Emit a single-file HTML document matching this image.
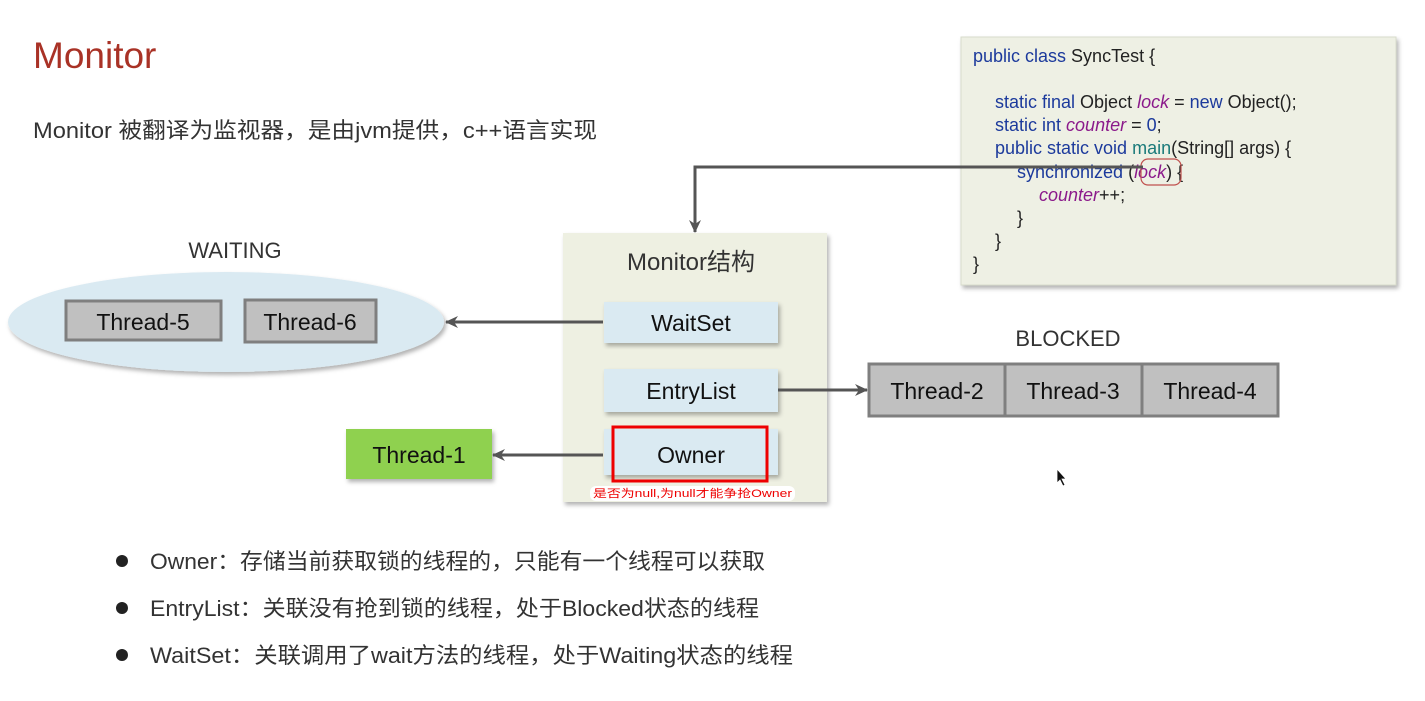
<!DOCTYPE html>
<html><head><meta charset="utf-8"><style>
html,body{margin:0;padding:0;background:#fff;}
svg{display:block}
text{font-family:"Liberation Sans","Noto Sans CJK SC",sans-serif;}
</style></head><body>
<svg width="1425" height="701" viewBox="0 0 1425 701" xmlns="http://www.w3.org/2000/svg">
<defs>
<filter id="sh" x="-5%" y="-5%" width="115%" height="120%"><feDropShadow dx="2" dy="3" stdDeviation="2" flood-color="#000" flood-opacity="0.3"/></filter>
<marker id="ar" markerWidth="14" markerHeight="14" refX="12" refY="7" orient="auto" markerUnits="userSpaceOnUse"><path d="M0,1 L13,7 L0,13 L4,7 Z" fill="#555"/></marker>
</defs>
<text x="33" y="68" font-size="37" fill="#a93226">Monitor</text>
<text x="33" y="138" font-size="22" fill="#333" textLength="564" lengthAdjust="spacingAndGlyphs">Monitor 被翻译为监视器，是由jvm提供，c++语言实现</text>

<rect x="961" y="37" width="435" height="248" fill="#eef0e4" stroke="#d8dccc" filter="url(#sh)"/>
<g font-size="18">
<text x="973" y="62"><tspan fill="#1c3a9c">public class</tspan><tspan fill="#222"> SyncTest {</tspan></text>
<text x="995" y="108"><tspan fill="#1c3a9c">static final</tspan><tspan fill="#222"> Object </tspan><tspan fill="#8b1a8b" font-style="italic">lock</tspan><tspan fill="#222"> = </tspan><tspan fill="#1c3a9c">new</tspan><tspan fill="#222"> Object();</tspan></text>
<text x="995" y="131"><tspan fill="#1c3a9c">static int</tspan><tspan fill="#222"> </tspan><tspan fill="#8b1a8b" font-style="italic">counter</tspan><tspan fill="#222"> = </tspan><tspan fill="#1c3a9c">0</tspan><tspan fill="#222">;</tspan></text>
<text x="995" y="154"><tspan fill="#1c3a9c">public static void</tspan><tspan fill="#1a7a7a"> main</tspan><tspan fill="#222">(String[] args) {</tspan></text>
<text x="1017" y="178"><tspan fill="#1c3a9c">synchronized</tspan><tspan fill="#222"> (</tspan><tspan fill="#8b1a8b" font-style="italic">lock</tspan><tspan fill="#222">) {</tspan></text>
<text x="1039" y="201"><tspan fill="#8b1a8b" font-style="italic">counter</tspan><tspan fill="#222">++;</tspan></text>
<text x="1017" y="224" fill="#222">}</text>
<text x="995" y="247" fill="#222">}</text>
<text x="973" y="270" fill="#222">}</text>
</g>
<rect x="1141" y="159" width="40" height="26" rx="7" fill="none" stroke="#c0504d" stroke-width="1.2"/>
<polyline points="1143,167 695,167 695,232" fill="none" stroke="#555" stroke-width="3" marker-end="url(#ar)"/>

<rect x="563" y="233" width="264" height="269" fill="#eef0e2" filter="url(#sh)"/>
<text x="691" y="270" font-size="24" fill="#333" text-anchor="middle">Monitor结构</text>
<rect x="604" y="302" width="174" height="41" fill="#daeaf2" filter="url(#sh)"/>
<text x="691" y="331" font-size="23" fill="#111" text-anchor="middle">WaitSet</text>
<rect x="604" y="369" width="174" height="43" fill="#daeaf2" filter="url(#sh)"/>
<text x="691" y="399" font-size="23" fill="#111" text-anchor="middle">EntryList</text>
<rect x="604" y="429" width="174" height="46" fill="#daeaf2" filter="url(#sh)"/>
<text x="691" y="463" font-size="23" fill="#111" text-anchor="middle">Owner</text>
<rect x="613" y="427" width="154" height="54" fill="none" stroke="#e00" stroke-width="3"/>
<rect x="590" y="486" width="205" height="15" rx="6" fill="#fff"/>
<text x="593" y="497" font-size="11" fill="#e00" font-family="Liberation Mono,Noto Sans CJK SC,monospace" textLength="199" lengthAdjust="spacingAndGlyphs">是否为null,为null才能争抢Owner</text>

<text x="235" y="258" font-size="22" fill="#333" text-anchor="middle">WAITING</text>
<ellipse cx="226" cy="322" rx="218" ry="50" fill="#daeaf2" filter="url(#sh)"/>
<rect x="66" y="301" width="155" height="39" fill="#c0c0c0" stroke="#7f7f7f" stroke-width="3"/>
<text x="143" y="330" font-size="23" fill="#111" text-anchor="middle">Thread-5</text>
<rect x="245" y="300" width="131" height="42" fill="#c0c0c0" stroke="#7f7f7f" stroke-width="3"/>
<text x="310" y="330" font-size="23" fill="#111" text-anchor="middle">Thread-6</text>
<line x1="603" y1="322" x2="446" y2="322" stroke="#555" stroke-width="3" marker-end="url(#ar)"/>

<rect x="346" y="429" width="146" height="50" fill="#8fd14f" filter="url(#sh)"/>
<text x="419" y="463" font-size="23" fill="#111" text-anchor="middle">Thread-1</text>
<line x1="603" y1="455" x2="493" y2="455" stroke="#555" stroke-width="3" marker-end="url(#ar)"/>

<text x="1068" y="346" font-size="22" fill="#333" text-anchor="middle">BLOCKED</text>
<line x1="778" y1="390" x2="867" y2="390" stroke="#555" stroke-width="3" marker-end="url(#ar)"/>
<rect x="869" y="364" width="409" height="52" fill="#c0c0c0" stroke="#7f7f7f" stroke-width="3"/>
<line x1="1005" y1="364" x2="1005" y2="416" stroke="#7f7f7f" stroke-width="3"/>
<line x1="1142" y1="364" x2="1142" y2="416" stroke="#7f7f7f" stroke-width="3"/>
<text x="937" y="399" font-size="23" fill="#111" text-anchor="middle">Thread-2</text>
<text x="1073" y="399" font-size="23" fill="#111" text-anchor="middle">Thread-3</text>
<text x="1210" y="399" font-size="23" fill="#111" text-anchor="middle">Thread-4</text>

<path d="M1057,469 L1057,483 L1060,480 L1063,486 L1065,485 L1062,479 L1066,479 Z" fill="#111" stroke="#fff" stroke-width="0.8"/>

<circle cx="122" cy="561" r="6" fill="#222"/>
<circle cx="122" cy="608" r="6" fill="#222"/>
<circle cx="122" cy="655" r="6" fill="#222"/>
<g font-size="22" fill="#333">
<text x="150" y="569" textLength="615" lengthAdjust="spacingAndGlyphs">Owner：存储当前获取锁的线程的，只能有一个线程可以获取</text>
<text x="150" y="616" textLength="609" lengthAdjust="spacingAndGlyphs">EntryList：关联没有抢到锁的线程，处于Blocked状态的线程</text>
<text x="150" y="663" textLength="643" lengthAdjust="spacingAndGlyphs">WaitSet：关联调用了wait方法的线程，处于Waiting状态的线程</text>
</g>
</svg>
</body></html>
